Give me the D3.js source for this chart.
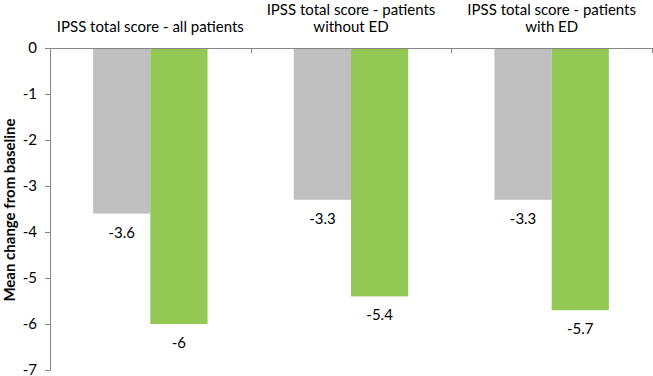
<!DOCTYPE html>
<html>
<head>
<meta charset="utf-8">
<script src="https://cdn.jsdelivr.net/npm/d3@7"></script>
<style>
  body { margin: 0; background: #fff; }
  svg { display: block; font-family: Lato, "Open Sans", sans-serif; }
</style>
</head>
<body>
<script>
// chart data
var groups = ["all", "withoutED", "withED"];
var groupTitles = [
    ["IPSS total score - all patients"],
    ["IPSS total score - patients", "without ED"],
    ["IPSS total score - patients", "with ED"]
];
var series = ["control", "treatment"];
var seriesColors = ["#bfbfbf", "#92c853"];
var controlValues = [-3.6, -3.3, -3.3];
var treatmentValues = [-6, -5.4, -5.7];
var yTicks = [0, -1, -2, -3, -4, -5, -6, -7];

var width = 653,
    height = 376,
    margin = {top: 48, right: 1, bottom: 6, left: 50};

var fontSize = 15;

var svg = d3.select("body").append("svg")
    .attr("width", width)
    .attr("height", height);

var x = d3.scaleBand()
    .domain(groups)
    .range([margin.left, width - margin.right])
    .paddingInner(0.43)
    .paddingOuter(0.215);

var xSub = d3.scaleBand()
    .domain(series)
    .range([0, x.bandwidth()]);

var y = d3.scaleLinear()
    .domain([0, -7])
    .range([margin.top, height - margin.bottom]);

var rows = groups.map((g, i) => ({
    group: g,
    values: [
        {key: "control", value: controlValues[i]},
        {key: "treatment", value: treatmentValues[i]}
    ]
}));

// bars
var gGroups = svg.append("g").selectAll("g")
    .data(rows)
    .join("g")
        .attr("transform", d => "translate(" + x(d.group) + ",0)");

gGroups.selectAll("rect")
    .data(d => d.values)
    .join("rect")
        .attr("x", d => xSub(d.key))
        .attr("y", y(0))
        .attr("width", xSub.bandwidth())
        .attr("height", d => y(d.value) - y(0))
        .attr("fill", (d, i) => seriesColors[i]);

gGroups.selectAll("text.value")
    .data(d => d.values)
    .join("text")
        .attr("class", "value")
        .attr("x", d => xSub(d.key) + xSub.bandwidth() / 2)
        .attr("y", d => y(d.value) + 24)
        .attr("text-anchor", "middle")
        .attr("font-size", fontSize)
        .attr("fill", "#000")
        .text(d => String(d.value));

// y axis
var yAxis = svg.append("g")
    .attr("transform", "translate(" + margin.left + ",0)")
    .call(d3.axisLeft(y).tickValues(yTicks).tickSize(5).tickPadding(8).tickFormat(d => String(d)));
yAxis.selectAll("path, line").attr("stroke", "#868686");
yAxis.selectAll("text").attr("font-size", fontSize).attr("font-family", "Lato, sans-serif").attr("fill", "#000");

// category axis along zero line
var boundaries = groups.map(g => x(g) - x.step() * x.paddingInner() / 2).slice(1)
    .concat([width - margin.right - 0.5]);
svg.append("line")
    .attr("x1", margin.left).attr("x2", width - margin.right)
    .attr("y1", y(0) + 0.5).attr("y2", y(0) + 0.5)
    .attr("stroke", "#868686");
svg.append("g").selectAll("line")
    .data(boundaries)
    .join("line")
        .attr("x1", d => Math.round(d) + 0.5).attr("x2", d => Math.round(d) + 0.5)
        .attr("y1", y(0)).attr("y2", y(0) + 5)
        .attr("stroke", "#868686");

// group titles
svg.append("g").selectAll("text")
    .data(groups)
    .join("text")
        .attr("x", g => x(g) + x.bandwidth() / 2)
        .attr("y", (g, i) => groupTitles[i].length > 1 ? 15 : 32)
        .attr("text-anchor", "middle")
        .attr("font-size", fontSize)
        .attr("fill", "#000")
        .selectAll("tspan")
        .data((g, i) => groupTitles[i])
        .join("tspan")
            .attr("x", function() { return this.parentNode.getAttribute("x"); })
            .attr("dy", (d, j) => j === 0 ? 0 : 17)
            .text(d => d);

// y axis title
svg.append("text")
    .attr("transform", "translate(15," + 210 + ") rotate(-90)")
    .attr("text-anchor", "middle")
    .attr("font-size", fontSize)
    .attr("font-weight", "bold")
    .attr("fill", "#000")
    .text("Mean change from baseline");
</script>
</body>
</html>
